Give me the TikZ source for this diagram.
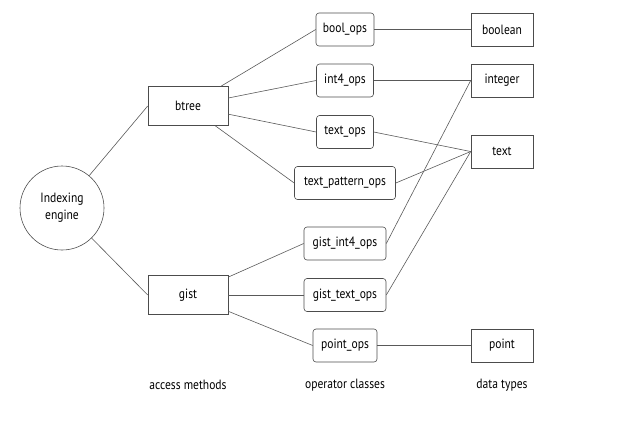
\documentclass[tikz,border=0pt]{standalone}
\usepackage{fontspec}
\setmainfont[FakeStretch=0.86]{PT Sans}
\begin{document}
\begin{tikzpicture}[x=1bp,y=-1bp,
  every node/.style={font=\fontsize{13.5}{15}\selectfont, text=black},
  dtbox/.style={draw=black!70, line width=0.6pt, minimum height=33bp, inner sep=0pt},
  amethod/.style={draw=black!70, line width=0.6pt, minimum width=80bp, minimum height=39bp, inner sep=0pt},
  opbox/.style={draw=black!70, line width=0.6pt, rounded corners=3bp, minimum height=33bp, inner sep=0pt},
  conn/.style={draw=black!65, line width=0.6pt},
  caption/.style={inner sep=0pt}]
\useasboundingbox (0,0) rectangle (627,424);
\node[circle, draw=black!70, line width=0.6pt, minimum size=84bp, inner sep=0pt, align=center, font=\fontsize{13.5}{17}\selectfont] (eng) at (62,208) {Indexing\\engine};
\node[amethod] (btree) at (188,106) {btree};
\node[amethod] (gist) at (188,295) {gist};

\node[opbox, minimum width=58bp] (boolops) at (345,29.5) {bool\_ops};
\node[opbox, minimum width=57bp] (int4ops) at (345,80.5) {int4\_ops};
\node[opbox, minimum width=57bp] (textops) at (345,132) {text\_ops};
\node[opbox, minimum width=101bp] (tpops) at (345,183) {text\_pattern\_ops};
\node[opbox, minimum width=82bp] (gint4ops) at (345,243.5) {gist\_int4\_ops};
\node[opbox, minimum width=82bp] (gtextops) at (345,295) {gist\_text\_ops};
\node[opbox, minimum width=64bp] (pointops) at (345,345.5) {point\_ops};

\node[dtbox, minimum width=62bp] (boolean) at (502,29.5) {boolean};
\node[dtbox, minimum width=62bp] (integer) at (502,80.5) {integer};
\node[dtbox, minimum width=62bp] (text) at (502,151.5) {text};
\node[dtbox, minimum width=62bp] (point) at (502,345.5) {point};

\node[caption] (capam) at (188,385) {access methods};
\node[caption] (capoc) at (345,385) {operator classes};
\node[caption] (capdt) at (502,385) {data types};

\draw[conn] (eng) -- (btree.west);
\draw[conn] (eng) -- (gist.west);
\draw[conn] (btree) -- (boolops.west);
\draw[conn] (btree) -- (int4ops.west);
\draw[conn] (btree) -- (textops.west);
\draw[conn] (btree) -- (tpops.west);
\draw[conn] (gist) -- (gint4ops.west);
\draw[conn] (gist) -- (gtextops.west);
\draw[conn] (gist) -- (pointops.west);
\draw[conn] (boolops.east) -- (boolean.west);
\draw[conn] (int4ops.east) -- (integer.west);
\draw[conn] (textops.east) -- (text.west);
\draw[conn] (tpops.east) -- (text.west);
\draw[conn] (gint4ops.east) -- (integer.west);
\draw[conn] (gtextops.east) -- (text.west);
\draw[conn] (pointops.east) -- (point.west);
\end{tikzpicture}
\end{document}
